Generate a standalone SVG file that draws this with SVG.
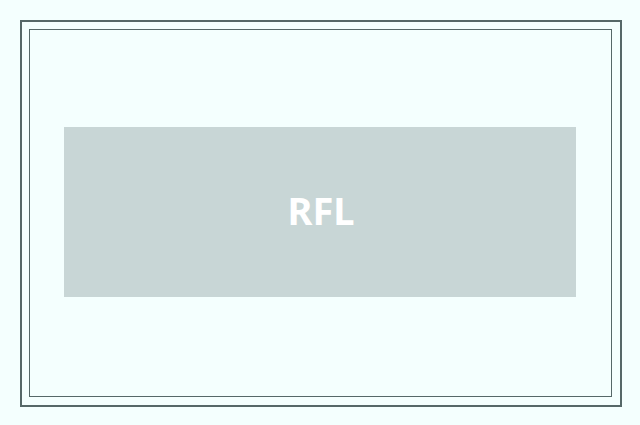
<svg xmlns="http://www.w3.org/2000/svg" width="640" height="425" viewBox="0 0 640 425">
<style>
.frame{fill:none;stroke:#566868}
.label{font-family:"Noto Sans","Open Sans",sans-serif;font-weight:bold;fill:#ffffff;text-anchor:middle}
</style>
<rect x="0" y="0" width="640" height="425" fill="#f4fffe"/>
<rect class="frame" x="21" y="21" width="600" height="385" stroke-width="2"/>
<rect class="frame" x="29.5" y="29.5" width="582" height="367" stroke-width="1"/>
<g id="node-rfl">
<rect x="64" y="127" width="512" height="170" fill="#c8d6d6"/>
<text class="label" x="321" y="225" font-size="38">RFL</text>
</g>
<g id="connectors"/>
</svg>
